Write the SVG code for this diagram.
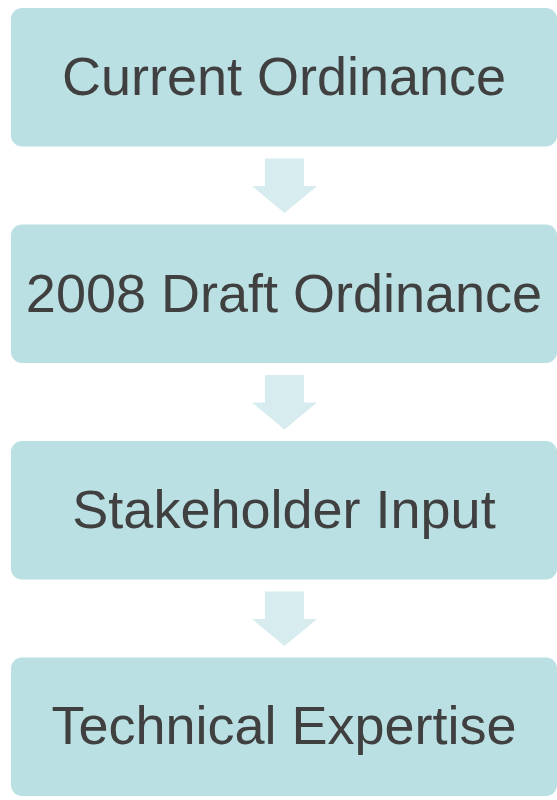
<svg xmlns="http://www.w3.org/2000/svg" width="557" height="800" viewBox="0 0 557 800">
<style>
.box{fill:#BBE0E3}
.arr{fill:#D6ECEE}
.lbl{font-family:"Liberation Sans",Arial,sans-serif;font-size:54px;fill:#404040;text-anchor:middle}
</style>
<defs>
<path id="ar" d="M265,0 H304 V27.5 H317 L284.5,54.5 L252,27.5 H265 Z"/>
</defs>
<rect width="557" height="800" fill="#ffffff"/>
<g id="connectors">
<use href="#ar" class="arr" y="158.5"/>
<use href="#ar" class="arr" y="375"/>
<use href="#ar" class="arr" y="591.5"/>
</g>
<g id="n1"><rect class="box" x="11" y="8" width="546" height="138.5" rx="11"/><text class="lbl" x="284" y="95">Current Ordinance</text></g>
<g id="n2"><rect class="box" x="11" y="224.5" width="546" height="138.5" rx="11"/><text class="lbl" x="284" y="311.5">2008 Draft Ordinance</text></g>
<g id="n3"><rect class="box" x="11" y="441" width="546" height="138.5" rx="11"/><text class="lbl" x="284" y="528">Stakeholder Input</text></g>
<g id="n4"><rect class="box" x="11" y="657.5" width="546" height="138.5" rx="11"/><text class="lbl" x="284" y="744">Technical Expertise</text></g>
</svg>
